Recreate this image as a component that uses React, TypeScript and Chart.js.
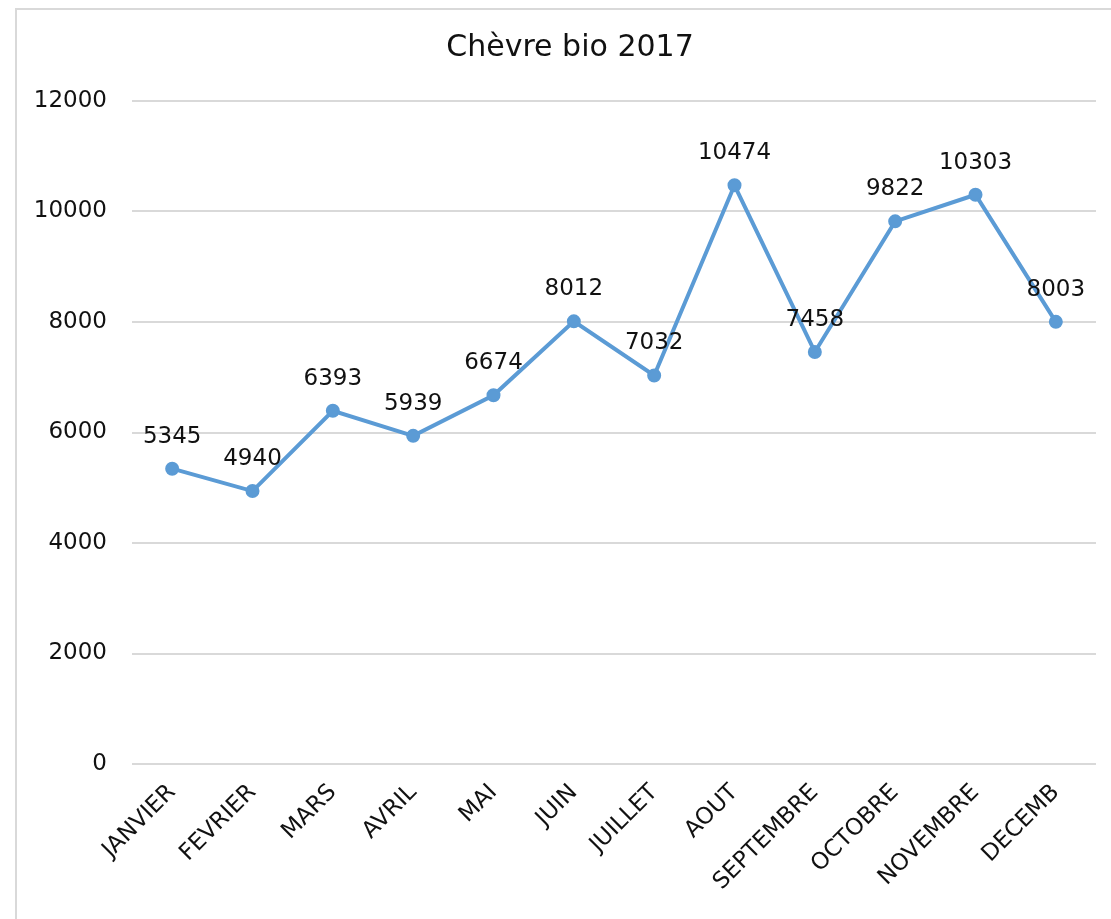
import React, { useEffect, useRef } from "react";
import { Chart, registerables } from "chart.js";

Chart.register(...registerables);

const TITLE = "Chèvre bio 2017";
const MONTHS = ["JANVIER", "FEVRIER", "MARS", "AVRIL", "MAI", "JUIN", "JUILLET", "AOUT", "SEPTEMBRE", "OCTOBRE", "NOVEMBRE", "DECEMB"];
const VALUES = [5345, 4940, 6393, 5939, 6674, 8012, 7032, 10474, 7458, 9822, 10303, 8003];
const Y_MIN = 0;
const Y_MAX = 12000;
const Y_STEP = 2000;

const FONT = "'DejaVu Sans', sans-serif";
const TEXT = "#111111";
const LINE = "#5B9BD5";

const valueLabels = {
  id: "valueLabels",
  afterDatasetsDraw(chart: any) {
    const ctx = chart.ctx;
    const meta = chart.getDatasetMeta(0);
    ctx.save();
    ctx.font = `23px ${FONT}`;
    ctx.fillStyle = TEXT;
    ctx.textAlign = "center";
    ctx.textBaseline = "middle";
    meta.data.forEach((pt: any, i: number) => {
      ctx.fillText(String(VALUES[i]), pt.x, pt.y - 32);
    });
    ctx.restore();
  },
};

const chartTitle = {
  id: "chartTitle",
  afterDraw(chart: any) {
    const ctx = chart.ctx;
    ctx.save();
    ctx.font = `30px ${FONT}`;
    ctx.fillStyle = TEXT;
    ctx.textAlign = "center";
    ctx.textBaseline = "middle";
    ctx.fillText(TITLE, chart.width / 2, 48);
    ctx.restore();
  },
};

export default function App() {
  const ref = useRef<HTMLCanvasElement>(null);
  useEffect(() => {
    const chart = new Chart(ref.current!, {
      type: "line",
      data: {
        labels: MONTHS,
        datasets: [
          {
            data: VALUES,
            borderColor: LINE,
            backgroundColor: LINE,
            borderWidth: 4,
            pointRadius: 6,
            pointBorderWidth: 2,
            pointBorderColor: LINE,
            pointBackgroundColor: LINE,
            tension: 0,
          },
        ],
      },
      options: {
        animation: false,
        responsive: false,
        layout: { padding: { left: 0, right: 29, top: 101, bottom: 0 } },
        plugins: {
          legend: { display: false },
          tooltip: { enabled: false },
          title: { display: false },
        },
        scales: {
          x: {
            offset: true,
            grid: { display: false, drawTicks: false },
            border: { display: false },
            ticks: {
              color: TEXT,
              font: { family: FONT, size: 23 },
              maxRotation: 45,
              minRotation: 45,
              padding: 15,
              autoSkip: false,
            },
            afterFit(scale: any) {
              scale.height = 155;
            },
          },
          y: {
            min: Y_MIN,
            max: Y_MAX,
            grid: { color: "#d9d9d9", lineWidth: 2, drawTicks: false },
            border: { display: false },
            ticks: {
              stepSize: Y_STEP,
              color: TEXT,
              font: { family: FONT, size: 23 },
              padding: 25,
              callback: (v: any) => String(v),
            },
            afterFit(scale: any) {
              scale.width = 117;
            },
          },
        },
      },
      plugins: [valueLabels, chartTitle],
    });
    return () => chart.destroy();
  }, []);

  return (
    <div style={{ position: "fixed", left: 0, top: 0, width: 1111, height: 919, overflow: "hidden", background: "#fff" }}>
      <div
        style={{
          position: "absolute",
          left: 15,
          top: 8,
          width: 1200,
          height: 1000,
          borderLeft: "2px solid #d9d9d9",
          borderTop: "2px solid #d9d9d9",
        }}
      />
      <canvas
        ref={ref}
        width={1110}
        height={919}
        style={{ position: "absolute", left: 15, top: 0, width: 1110, height: 919 }}
      />
    </div>
  );
}
